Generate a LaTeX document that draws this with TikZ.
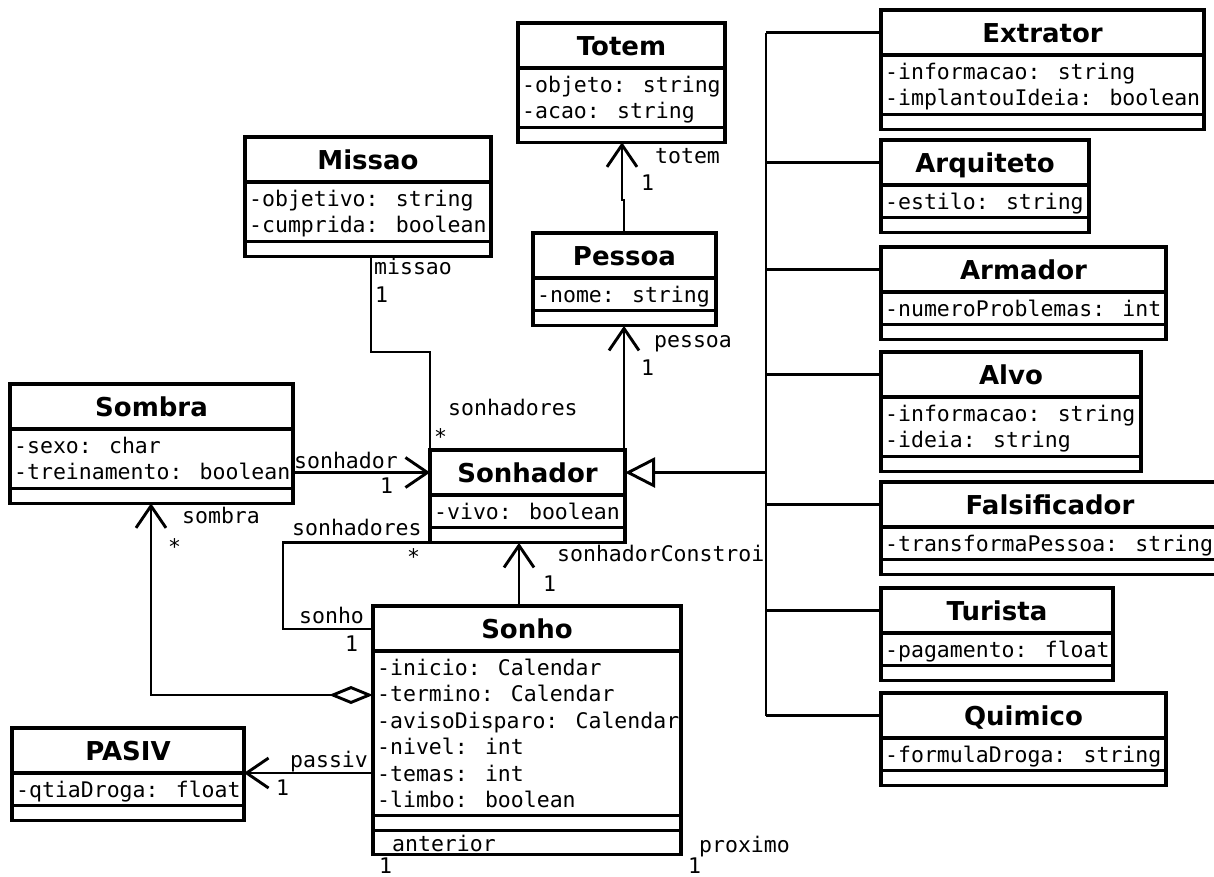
\documentclass[tikz,border=0pt]{standalone}
\usepackage{fontspec}
\newfontfamily\titlefont{DejaVu Sans}
\newfontfamily\monofont{DejaVu Sans Mono}
\usetikzlibrary{arrows.meta}

\tikzset{
  classbox/.style={draw, line width=3.1pt, inner sep=0pt, outer sep=0pt, fill=white},
  classtitle/.style={inner sep=0pt, outer sep=0pt, minimum height=45pt, text height=19pt, text depth=0pt,
    font=\titlefont\bfseries\fontsize{26}{30}\selectfont},
  sepline/.style={line width=3.1pt},
  attr/.style={inner sep=0pt, font=\monofont\fontsize{21.5}{26}\selectfont},
  lbl/.style={attr, anchor=base west},
  conn/.style={line width=2.9pt},
  nav/.style={conn, -{Straight Barb[length=22pt,width=30pt]}},
  gen/.style={conn, -{Triangle[open,length=30pt,width=30pt,fill=white]}},
  aggr/.style={conn, {Diamond[open,length=44pt,width=18pt,fill=white]}-{Straight Barb[length=22pt,width=30pt]}}
}

% \umlclass{id}{x}{y}{width}{attribute lines}{title}{attributes}
\newcommand{\umlclass}[7]{%
  \pgfmathsetmacro{\attrh}{26.4*#5+6.5}%
  \pgfmathsetmacro{\boxh}{45+\attrh+15}%
  \node[classbox, minimum width=#4pt, minimum height=\boxh pt, anchor=north west] (#1) at (#2,#3) {};
  \node[classtitle, minimum width=#4pt, anchor=north west] (#1-t) at (#2,#3) {#6};
  \draw[sepline] (#1.north west) ++(0,45) -- ++(#4,0);
  \draw[sepline] (#1.north west) ++(0,{45+\attrh}) -- ++(#4,0);
  \foreach \attrline [count=\i] in {#7} {
    \path (#1.north west) ++(4,{69.5+26.4*(\i-1)}) node[attr, anchor=base west] (#1-a\i) {\attrline};
  }
}

\begin{document}
\begin{tikzpicture}[x=1pt,y=-1pt]
\fill[white] (0,0) rectangle (1214,876);
\useasboundingbox (0,0) rectangle (1214,876);

% classes
\umlclass{totem}{518}{23}{207}{2}{Totem}{-objeto: string,-acao: string}
\umlclass{missao}{245}{137}{246}{2}{Missao}{-objetivo: string,-cumprida: boolean}
\umlclass{pessoa}{533}{233}{183}{1}{Pessoa}{-nome: string}
\umlclass{sombra}{10}{384}{283}{2}{Sombra}{-sexo: char,-treinamento: boolean}
\umlclass{sonhador}{430}{450}{195}{1}{Sonhador}{-vivo: boolean}
\umlclass{sonho}{373}{606}{308}{6}{Sonho}{-inicio: Calendar,-termino: Calendar,-avisoDisparo: Calendar,-nivel: int,-temas: int,-limbo: boolean}
\node[classbox, minimum width=308pt, minimum height=24pt, anchor=north west] (sonho-x) at (sonho.south west) {};
\umlclass{pasiv}{12}{728}{232}{1}{PASIV}{-qtiaDroga: float}

\umlclass{extrator}{881}{10}{323}{2}{Extrator}{-informacao: string,-implantouIdeia: boolean}
\umlclass{arquiteto}{881}{140}{208}{1}{Arquiteto}{-estilo: string}
\umlclass{armador}{881}{247}{285}{1}{Armador}{-numeroProblemas: int}
\umlclass{alvo}{881}{352}{260}{2}{Alvo}{-informacao: string,-ideia: string}
\umlclass{falsificador}{881}{482}{338}{1}{Falsificador}{-transformaPessoa: string}
\umlclass{turista}{881}{588}{232}{1}{Turista}{-pagamento: float}
\umlclass{quimico}{881}{693}{285}{1}{Quimico}{-formulaDroga: string}

% routing points
\coordinate (gx) at (766,0);
\coordinate (px) at (624,0);
\coordinate (tx) at (622,0);
\coordinate (jog) at (624,200);
\coordinate (jog2) at (622,200);
\coordinate (mx) at (371,0);
\coordinate (my) at (0,352);
\coordinate (cx) at (519,0);
\coordinate (lx) at (283,0);
\coordinate (ly) at (0,629);
\coordinate (ax) at (151,0);
\coordinate (ay) at (0,695);

% generalization tree
\draw[conn] (extrator-t.west -| gx) -- (quimico-t.west -| gx);
\foreach \sub in {extrator,arquiteto,armador,alvo,falsificador,turista,quimico}
  \draw[conn] (\sub-t.west -| gx) -- (\sub-t.west);
\draw[gen] (sonhador-t.east -| gx) -- (sonhador-t.east);

% associations
\draw[nav] (pessoa.north -| px) -- (jog) -- (jog2) -- (totem.south -| tx);
\draw[nav] (sonhador.north -| px) -- (pessoa.south -| px);
\draw[conn] (missao.south -| mx) -- (mx |- my) -- (sonhador.north west |- my) -- (sonhador.north west);
\draw[nav] (sombra.east |- sonhador-t.west) -- (sonhador-t.west);
\draw[nav] (sonho.north -| cx) -- (sonhador.south -| cx);
\draw[conn] (sonhador.south west) -- (sonhador.south west -| lx) -- (lx |- ly) -- (sonho.west |- ly);
\draw[aggr] (sonho.west |- ay) -- (ax |- ay) -- (sombra.south -| ax);
\draw[nav] (sonho.west |- pasiv-t.south) -- (pasiv-t.south east);

% association end labels
\node[lbl] (l-totem) at (655,163) {totem};
\node[lbl] (m-totem) at (641,190) {1};
\node[lbl] (l-missao) at (374,274) {missao};
\node[lbl] (m-missao) at (375,302) {1};
\node[lbl] (l-pessoa) at (654,347) {pessoa};
\node[lbl] (m-pessoa) at (641,375) {1};
\node[lbl] (l-sonh1) at (448,415) {sonhadores};
\node[lbl] (m-sonh1) at (434,444) {*};
\node[lbl] (l-sonhador) at (294,468) {sonhador};
\node[lbl] (m-sonhador) at (380,493) {1};
\node[lbl] (l-sombra) at (182,523) {sombra};
\node[lbl] (m-sombra) at (168,554) {*};
\node[lbl] (l-sonh2) at (292,535) {sonhadores};
\node[lbl] (m-sonh2) at (407,564) {*};
\node[lbl] (l-constroi) at (557,561) {sonhadorConstroi};
\node[lbl] (m-constroi) at (543,591) {1};
\node[lbl] (l-sonho) at (299,623) {sonho};
\node[lbl] (m-sonho) at (345,651) {1};
\node[lbl] (l-passiv) at (290,767) {passiv};
\node[lbl] (m-passiv) at (276,795) {1};
\node[lbl] (l-anterior) at (392,851) {anterior};
\node[lbl] (l-proximo) at (699,852) {proximo};
\node[lbl] (m-anterior) at (379,873) {1};
\node[lbl] (m-proximo) at (688,873) {1};
\end{tikzpicture}
\end{document}
